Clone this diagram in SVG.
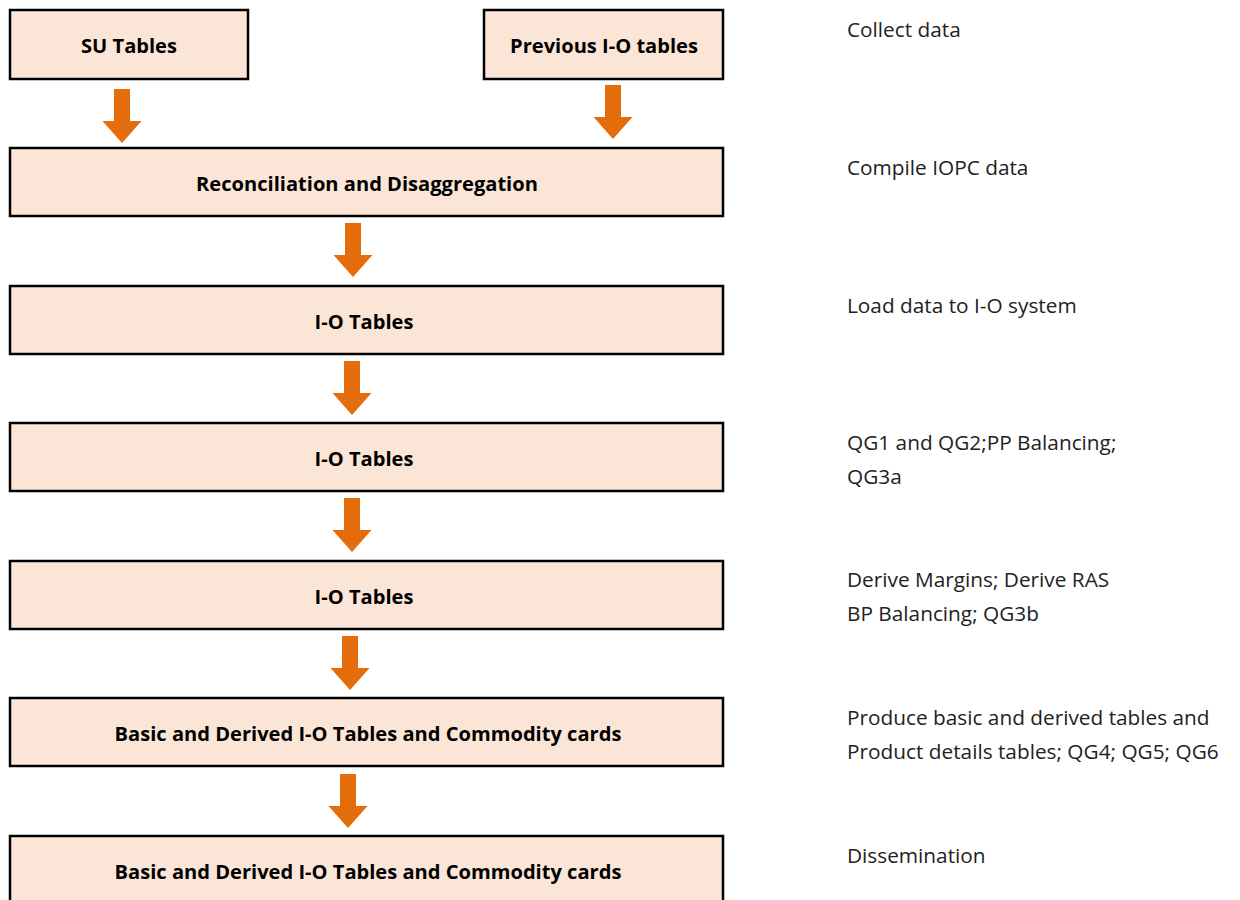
<svg xmlns="http://www.w3.org/2000/svg" width="1240" height="900" viewBox="0 0 1240 900">
<style>
.box{fill:#FBE5D6;stroke:#000;stroke-width:2.5}
.bt{font-family:"Open Sans","Liberation Sans",Arial,sans-serif;font-weight:bold;font-size:20.1px;fill:#000;text-anchor:middle}
.rt{font-family:"Open Sans","Liberation Sans",Arial,sans-serif;font-size:20.8px;fill:#222}
.arr{fill:#E46C0A}
</style>
<defs>
<path id="ar" d="M-8,0 H8 V32 H19.5 L0,54 L-19.5,32 H-8 Z"/>
</defs>
<rect width="1240" height="900" fill="#fff"/>
<g id="n-su"><rect class="box" x="10" y="10" width="238" height="69"/><text class="bt" x="129" y="53">SU Tables</text></g>
<g id="n-prev"><rect class="box" x="484" y="10" width="239" height="69"/><text class="bt" x="604" y="53">Previous I-O tables</text></g>
<g id="n-recon"><rect class="box" x="10" y="148" width="713" height="68"/><text class="bt" x="367" y="191">Reconciliation and Disaggregation</text></g>
<g id="n-io1"><rect class="box" x="10" y="286" width="713" height="68"/><text class="bt" x="364" y="329">I-O Tables</text></g>
<g id="n-io2"><rect class="box" x="10" y="423" width="713" height="68"/><text class="bt" x="364" y="466">I-O Tables</text></g>
<g id="n-io3"><rect class="box" x="10" y="561" width="713" height="68"/><text class="bt" x="364" y="604">I-O Tables</text></g>
<g id="n-basic1"><rect class="box" x="10" y="698" width="713" height="68"/><text class="bt" x="368" y="741">Basic and Derived I-O Tables and Commodity cards</text></g>
<g id="n-basic2"><rect class="box" x="10" y="836" width="713" height="70"/><text class="bt" x="368" y="879">Basic and Derived I-O Tables and Commodity cards</text></g>
<g id="connectors">
<use href="#ar" class="arr" x="122" y="89"/>
<use href="#ar" class="arr" x="613" y="85"/>
<use href="#ar" class="arr" x="353" y="223"/>
<use href="#ar" class="arr" x="352" y="361"/>
<use href="#ar" class="arr" x="352" y="498"/>
<use href="#ar" class="arr" x="350" y="636"/>
<use href="#ar" class="arr" x="348" y="774"/>
</g>
<g id="labels">
<text class="rt" x="847" y="37">Collect data</text>
<text class="rt" x="847" y="175">Compile IOPC data</text>
<text class="rt" x="847" y="313">Load data to I-O system</text>
<text class="rt" x="847" y="450">QG1 and QG2;PP Balancing;</text>
<text class="rt" x="847" y="484">QG3a</text>
<text class="rt" x="847" y="587">Derive Margins; Derive RAS</text>
<text class="rt" x="847" y="621">BP Balancing; QG3b</text>
<text class="rt" x="847" y="725">Produce basic and derived tables and</text>
<text class="rt" x="847" y="759">Product details tables; QG4; QG5; QG6</text>
<text class="rt" x="847" y="863">Dissemination</text>
</g>
</svg>
